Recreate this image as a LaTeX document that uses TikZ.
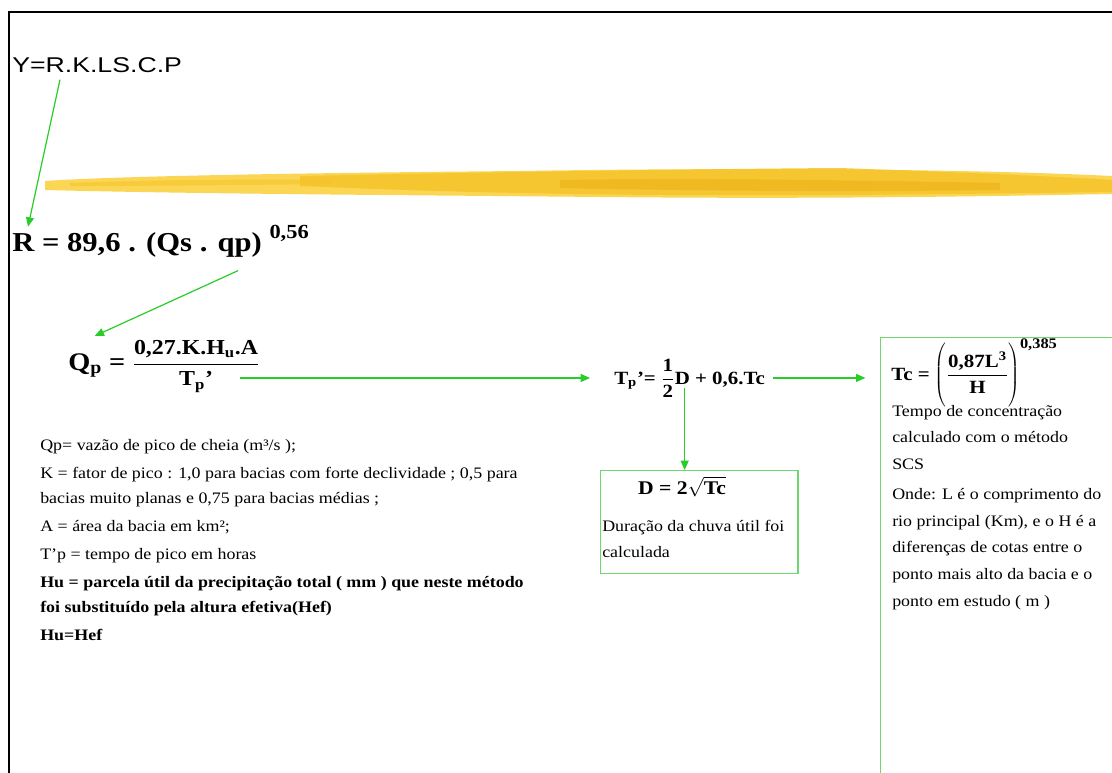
\documentclass[tikz,border=0pt]{standalone}
\usepackage{fontspec}
\setmainfont[FakeStretch=1.12]{Liberation Serif}
\newfontfamily\arialfont[FakeStretch=1.25]{Liberation Sans}
\usetikzlibrary{arrows.meta,positioning}
\definecolor{arrowGreen}{RGB}{40,205,40}
\definecolor{boxGreen}{RGB}{110,215,110}
\definecolor{brushLight}{RGB}{250,214,84}
\definecolor{brushMid}{RGB}{245,196,42}
\definecolor{brushDark}{RGB}{236,174,20}
\newcommand{\ix}[1]{\textsubscript{#1}}

\begin{document}
\begin{tikzpicture}[x=0.75pt, y=-0.75pt,
  flow/.style={draw=arrowGreen, line width=0.9pt, -{Triangle[length=7pt,width=6pt]}},
  gbox/.style={draw=boxGreen, line width=1.1pt, inner sep=0pt},
  eq/.style={inner sep=0pt, anchor=base west},
  txt/.style={inner sep=0pt, anchor=base west, align=left}]
  \useasboundingbox (0,0) rectangle (1112,773);
  \clip (0,0) rectangle (1112,773);
  \fill[white] (0,0) rectangle (1112,773);
  % frame
  \draw[line width=2.2pt] (9,773) -- (9,12) -- (1112,12);
  % brush stroke
  \fill[brushLight] (45,181) .. controls (120,176) and (300,173) .. (520,171)
    .. controls (700,168) and (950,168) .. (1112,176) -- (1112,194)
    .. controls (950,197) and (800,199) .. (600,197)
    .. controls (400,195) and (200,194) .. (45,190) -- cycle;
  \fill[brushMid, opacity=0.85] (300,176) .. controls (500,172) and (700,169) .. (840,168)
    .. controls (950,172) and (1050,176) .. (1112,180) -- (1112,192)
    .. controls (900,195) and (700,197) .. (520,193)
    .. controls (420,191) and (350,188) .. (300,186) -- cycle;
  \fill[brushDark, opacity=0.5] (560,180) .. controls (700,178) and (850,180) .. (1000,183)
    -- (1000,190) .. controls (850,192) and (700,191) .. (560,188) -- cycle;
  \fill[brushMid, opacity=0.6] (70,183) .. controls (150,180) and (250,179) .. (330,180)
    -- (330,184) .. controls (250,185) and (150,186) .. (70,186) -- cycle;

  % formulas
  \node[eq, font=\arialfont\fontsize{16}{19}\selectfont] (yeq) at (12,73) {Y=R.K.LS.C.P};
  \node[eq, font=\bfseries\fontsize{20.5}{24}\selectfont] (req) at (12,252)
    {R = 89,6 . (Qs . qp) \raisebox{10pt}{\fontsize{15}{17}\selectfont 0,56}};
  \node[eq, font=\bfseries\fontsize{19}{22}\selectfont] (qp) at (68,370)
    {Q\ix{p} = $\displaystyle\frac{\mbox{\fontsize{16}{18}\selectfont 0,27.K.H\ix{u}.A}}{\mbox{\fontsize{16}{18}\selectfont T\ix{p}'}}$};
  \node[eq, font=\bfseries\fontsize{14}{17}\selectfont] (tp) at (614,384)
    {T\ix{p}'= $\displaystyle\frac{\mbox{1}}{\mbox{2}}$D + 0,6.Tc};

  % boxes
  \node[gbox, anchor=north west, minimum width=148pt, minimum height=77pt] (dbox) at (600,470) {};
  \node[gbox, anchor=north west, minimum width=260pt, minimum height=400pt] (tcbox) at (880,337) {};
  \node[eq, anchor=base, font=\bfseries\fontsize{14.5}{17}\selectfont] (dform) at (682,494)
    {D = 2$\sqrt{\mbox{Tc}}$};
  \node[txt, font=\fontsize{12}{19.5}\selectfont] (dtext) at (602,557)
    {Duração da chuva útil foi\\calculada};
  \node[eq, font=\bfseries\fontsize{14}{17}\selectfont] (tcf) at (891,380)
    {Tc = $\left(\vrule height 27pt depth 17pt width 0pt\displaystyle\frac{\mbox{0,87L\textsuperscript{3}}}{\mbox{H}}\right)^{\mbox{\fontsize{11}{13}\selectfont 0,385}}$};
  \node[txt, font=\fontsize{12}{20}\selectfont] (tctext) at (892,606)
    {Tempo de concentração\\calculado com o método\\SCS\\[2.5pt]
     Onde: L é o comprimento do\\rio principal (Km), e o H é a\\diferenças de cotas entre o\\
     ponto mais alto da bacia e o\\ponto em estudo ( m )};

  % legend of the Qp formula
  \node[txt, font=\fontsize{12}{18.5}\selectfont] (legend) at (40,640)
    {Qp= vazão de pico de cheia (m³/s );\\[2.5pt]
     K = fator de pico : 1,0 para bacias com forte declividade ; 0,5 para\\
     bacias muito planas e 0,75 para bacias médias ;\\[2.5pt]
     A = área da bacia em km²;\\[2.5pt]
     T’p = tempo de pico em horas\\[2.5pt]
     \textbf{Hu = parcela útil da precipitação total ( mm ) que neste método}\\
     \textbf{foi substituído pela altura efetiva(Hef)}\\[2.5pt]
     \textbf{Hu=Hef}};

  % connectors
  \coordinate (qpout) at ([xshift=129pt,yshift=-6pt]qp.base west);
  \coordinate (tpdown) at ([xshift=53pt,yshift=-3pt]tp.base west);
  \draw[flow] ([xshift=36pt,yshift=-5pt]yeq.base west) -- ([xshift=12pt,yshift=19pt]req.base west);
  \draw[flow] ([xshift=169.5pt,yshift=-14pt]req.base west) -- ([xshift=20pt,yshift=25.5pt]qp.base west);
  \draw[flow, shorten >=18pt] (qpout) -- (qpout -| tp.west);
  \draw[flow, shorten >=11pt] ([xshift=6pt]tp.east) -- (tp.east -| tcbox.west);
  \draw[flow] (tpdown) -- (tpdown |- dbox.north);
\end{tikzpicture}
\end{document}
